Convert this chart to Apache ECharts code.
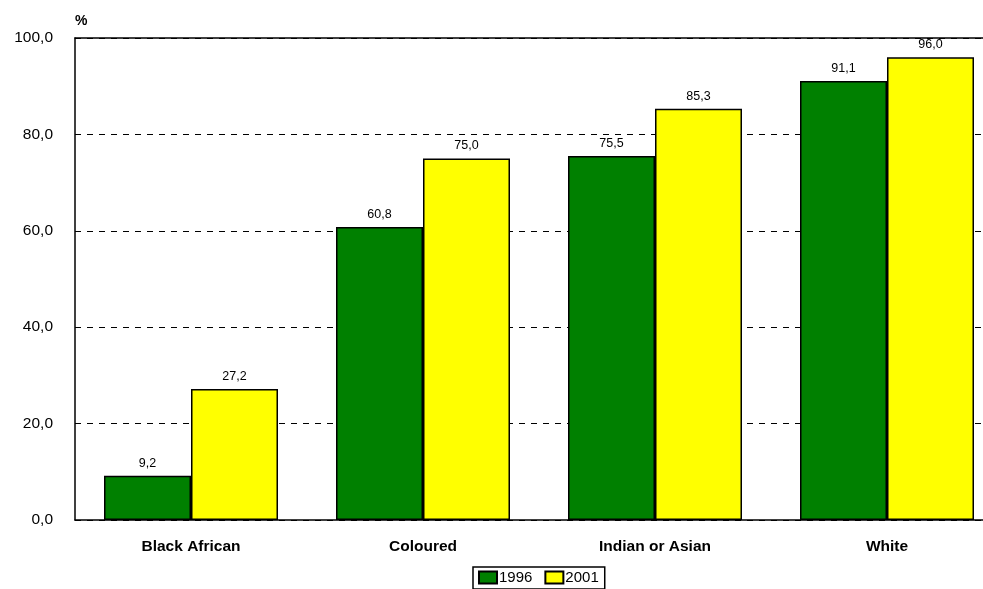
<!DOCTYPE html>
<html><head><meta charset="utf-8">
<script src="https://cdn.jsdelivr.net/npm/echarts@6/dist/echarts.min.js"></script>
<style>html,body{margin:0;padding:0;background:#fff}#c{width:983px;height:589px}</style>
</head><body><div id="c"></div>
<script>
const categories = ['Black African', 'Coloured', 'Indian or Asian', 'White'];
const values1996 = [9.2, 60.8, 75.5, 91.1];
const values2001 = [27.2, 75.0, 85.3, 96.0];
const seriesNames = ['1996', '2001'];

const chart = echarts.init(document.getElementById('c'));
const fmt = v => v.toFixed(1).replace('.', ',');
const lbl = {show: true, position: 'top', distance: 6, color: '#000', fontFamily: 'Liberation Sans', fontSize: 12.5, formatter: p => fmt(p.value)};
chart.setOption({
  animation: false,
  textStyle: {fontFamily: 'Liberation Sans'},
  grid: {left: 75, width: 928, top: 38, height: 482, show: false, containLabel: false, outerBoundsMode: 'none'},
  legend: {
    top: 567, left: 473, itemGap: 12, itemWidth: 18, itemHeight: 12,
    padding: [3, 6, 4, 5],
    borderColor: '#000', borderWidth: 1.5, borderRadius: 0,
    textStyle: {fontSize: 15, color: '#000', padding: [0, 0, 0, -3]},
    icon: 'rect',
    data: seriesNames
  },
  xAxis: [{
    type: 'category', data: categories,
    axisLine: {lineStyle: {color: '#000', width: 1.5}},
    axisTick: {show: false},
    axisLabel: {fontWeight: 'bold', fontSize: 15.5, color: '#000', margin: 19}
  }, {
    type: 'category', data: categories, position: 'top',
    axisLine: {show: true, lineStyle: {color: '#000', width: 1.5}},
    axisTick: {show: false}, axisLabel: {show: false}, splitLine: {show: false}
  }],
  yAxis: {
    type: 'value', min: 0, max: 100, interval: 20,
    name: '%', nameLocation: 'end', nameGap: 10,
    nameTextStyle: {fontWeight: 'bold', fontSize: 14, color: '#000', align: 'left', padding: [0, 0, 0, 0]},
    axisLine: {show: true, lineStyle: {color: '#000', width: 1.5}},
    axisTick: {show: false},
    axisLabel: {fontSize: 15.5, color: '#000', margin: 22, formatter: v => fmt(v)},
    splitLine: {show: true, lineStyle: {color: '#000', type: [6, 6], width: 1}}
  },
  series: [
    {name: seriesNames[0], type: 'bar', data: values1996, barGap: '0%', barCategoryGap: '25%',
     itemStyle: {color: '#008000', borderColor: '#000', borderWidth: 1.5}, label: lbl},
    {name: seriesNames[1], type: 'bar', data: values2001,
     itemStyle: {color: '#ffff00', borderColor: '#000', borderWidth: 1.5}, label: lbl}
  ]
});
</script></body></html>
